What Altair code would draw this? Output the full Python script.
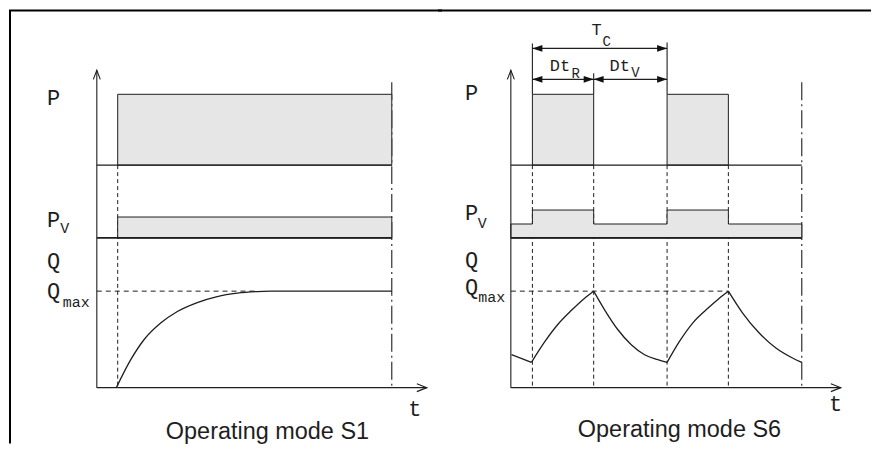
import altair as alt
import pandas as pd

# ---------------- values ----------------
# time unit: one S6 duty cycle T_C = 10 units; level units arbitrary (Q_max ~ 9.7)
S1_ON, S1_END = 1.55, 21.9
S6_EDGES = [1.6, 6.15, 11.6, 16.15, 21.6]      # on, off, on, off, end of view
T_AXIS_END = 24.5
LEVEL_AXIS_END = 31.8

P_BASE, P_TOP = 22.3, 29.4
PV_BASE = 15.0
PV_S1_TOP = 17.1
PV_S6_LOW, PV_S6_HIGH = 16.4, 17.8
Q_MAX = 9.67
S1_QMAX_DASH_END = 12.0

# thermal curve S1 (exponential rise to Q_max)
S1_Q_T = [1.45, 2.52, 3.5, 4.74, 5.98, 7.46, 8.94, 10.42, 11.9, 12.89, 21.9]
S1_Q = [0.0, 2.8, 4.8, 6.47, 7.63, 8.53, 9.13, 9.47, 9.63, 9.67, 9.67]

# thermal curve S6 (saw-tooth of exponential arcs)
S6_Q_T = [0.05, 1.53,
          1.53, 2.52, 3.5, 4.5, 5.48, 6.15,
          6.15, 6.96, 7.95, 8.94, 9.93, 10.91, 11.6,
          11.6, 12.52, 13.5, 14.5, 15.48, 16.15,
          16.15, 17.21, 18.44, 19.68, 20.91, 21.6]
S6_Q = [3.3, 2.53,
        2.53, 4.6, 6.35, 7.75, 8.97, 9.67,
        9.67, 7.8, 5.8, 4.3, 3.3, 2.8, 2.53,
        2.53, 4.63, 6.47, 7.8, 8.97, 9.67,
        9.67, 7.47, 5.47, 3.97, 2.97, 2.53]
S6_Q_ARC = [0, 0,
            1, 1, 1, 1, 1, 1,
            2, 2, 2, 2, 2, 2, 2,
            3, 3, 3, 3, 3, 3,
            4, 4, 4, 4, 4, 4]

# dimension chain of S6
TC_LEVEL, DT_LEVEL = 34.0, 30.9
DASHDOT_TOP = 30.6

# texts
TITLES = ["Operating mode S1", "Operating mode S6"]

# ---------------- styling / layout ----------------
INK = "#1e1e1e"
FILL = "#e6e6e6"
MONO = "Liberation Mono"
SANS = "Liberation Sans"
PANEL_W, PANEL_H = 432, 436
LEVEL_DOMAIN = [-5.6, 38.0]
S1_T_DOMAIN = [-6.52, 25.48]
S6_T_DOMAIN = [-5.26, 26.74]

ARROW_LEFT = "M0,0L10,-3.3L10,3.3Z"
ARROW_RIGHT = "M0,0L-10,-3.3L-10,3.3Z"
OPEN_UP = "M-3.5,9L0,0L3.5,9"
OPEN_RIGHT = "M-10,-4L0,0L-10,4"


def seg_df(rows):
    return pd.DataFrame(rows, columns=["x", "y", "x2", "y2"])


def build_panel(tdom, d, borders_left, frame_x0, frame_x1):
    xs = alt.Scale(domain=tdom, nice=False, zero=False)
    ys = alt.Scale(domain=LEVEL_DOMAIN, nice=False, zero=False)

    def X(f):
        return alt.X(f, type="quantitative", scale=xs, axis=None)

    def Y(f):
        return alt.Y(f, type="quantitative", scale=ys, axis=None)

    def rules(df, **kw):
        return alt.Chart(df).mark_rule(**kw).encode(
            x=X("x"), y=Y("y"), x2=alt.X2("x2"), y2=alt.Y2("y2"))

    layers = []
    layers.append(rules(d["dash_v"], color=INK, strokeWidth=1, strokeDash=[4, 3]))
    layers.append(rules(d["dash_h"], color=INK, strokeWidth=1, strokeDash=[5, 4]))
    layers.append(rules(d["dashdot"], color=INK, strokeWidth=1.1, strokeDash=[18, 4, 2, 4]))
    layers.append(alt.Chart(d["rects"]).mark_rect(fill=FILL, stroke=INK, strokeWidth=1).encode(
        x=X("x"), x2=alt.X2("x2"), y=Y("y"), y2=alt.Y2("y2")))
    if d.get("area") is not None:
        layers.append(alt.Chart(d["area"]).mark_area(
            fill=FILL, stroke=INK, strokeWidth=1, interpolate="step-after", opacity=1).encode(
            x=X("t"), y=Y("top"), y2=alt.Y2("base")))
    layers.append(rules(d["solid"], color=INK, strokeWidth=1.1))
    layers.append(rules(d["thick"], color=INK, strokeWidth=1.8))
    layers.append(alt.Chart(d["curve"]).mark_line(
        color=INK, strokeWidth=1.3, interpolate="monotone").encode(
        x=X("t"), y=Y("q"), detail="arc:N"))
    # axis arrow heads
    layers.append(alt.Chart(d["up"]).mark_point(
        shape=OPEN_UP, size=4, filled=False, stroke=INK, strokeWidth=1.1, opacity=1).encode(
        x=X("x"), y=Y("y")))
    layers.append(alt.Chart(d["right"]).mark_point(
        shape=OPEN_RIGHT, size=4, filled=False, stroke=INK, strokeWidth=1.1, opacity=1).encode(
        x=X("x"), y=Y("y")))
    if d.get("arr_l") is not None:
        layers.append(alt.Chart(d["arr_l"]).mark_point(
            shape=ARROW_LEFT, size=4, filled=True, color="#111", opacity=1).encode(
            x=X("x"), y=Y("y")))
        layers.append(alt.Chart(d["arr_r"]).mark_point(
            shape=ARROW_RIGHT, size=4, filled=True, color="#111", opacity=1).encode(
            x=X("x"), y=Y("y")))
    # texts
    specs = [("main", 22, MONO, "left"), ("sub", 15, MONO, "left"),
             ("dim", 17, MONO, "left"), ("dimsub", 14, MONO, "left"),
             ("title", 23.5, SANS, "center")]
    for key, size, font, align in specs:
        if d.get(key) is not None:
            layers.append(alt.Chart(d[key]).mark_text(
                align=align, baseline="alphabetic", font=font, fontSize=size, color=INK).encode(
                x=X("x"), y=Y("y"), text="s:N"))
    # frame
    layers.append(alt.Chart(pd.DataFrame({"k": [0]})).mark_rule(color="#000", strokeWidth=2).encode(
        x=alt.value(frame_x0), x2=alt.value(frame_x1), y=alt.value(2)))
    if borders_left:
        layers.append(alt.Chart(pd.DataFrame({"k": [0]})).mark_rule(color="#000", strokeWidth=2).encode(
            x=alt.value(1), y=alt.value(2), y2=alt.value(PANEL_H)))
    return alt.layer(*layers).properties(width=PANEL_W, height=PANEL_H)


def txt(rows):
    return pd.DataFrame(rows, columns=["s", "x", "y"])


# ---------------- S1 panel ----------------
s1 = {
    "dash_v": seg_df([(S1_ON, P_BASE, S1_ON, 0)]),
    "dash_h": seg_df([(0, Q_MAX, S1_QMAX_DASH_END, Q_MAX)]),
    "dashdot": seg_df([(S1_END, DASHDOT_TOP, S1_END, 0)]),
    "rects": seg_df([(S1_ON, P_BASE, S1_END, P_TOP), (S1_ON, PV_BASE, S1_END, PV_S1_TOP)]),
    "solid": seg_df([(0, 0, 0, LEVEL_AXIS_END), (0, 0, T_AXIS_END, 0),
                     (0, P_BASE, S1_END, P_BASE)]),
    "thick": seg_df([(0, PV_BASE, S1_END, PV_BASE)]),
    "curve": pd.DataFrame({"t": S1_Q_T, "q": S1_Q, "arc": [0] * len(S1_Q)}),
    "up": pd.DataFrame({"x": [0], "y": [LEVEL_AXIS_END]}),
    "right": pd.DataFrame({"x": [T_AXIS_END], "y": [0]}),
    "main": txt([("P", -3.70, 28.37), ("P", -3.70, 16.13), ("Q", -3.70, 12.0),
                 ("Q", -3.70, 9.0), ("t", 23.13, -2.87)]),
    "sub": txt([("V", -2.72, 15.5), ("max", -2.52, 8.13)]),
    "title": txt([(TITLES[0], 12.67, -5.1)]),
}

# ---------------- S6 panel ----------------
on1, off1, on2, off2, end6 = S6_EDGES
s6 = {
    "dash_v": seg_df([(t, P_BASE, t, 0) for t in [on1, off1, on2, off2]]),
    "dash_h": seg_df([(0, Q_MAX, off2, Q_MAX)]),
    "dashdot": seg_df([(end6, DASHDOT_TOP, end6, 0)]),
    "rects": seg_df([(on1, P_BASE, off1, P_TOP), (on2, P_BASE, off2, P_TOP)]),
    "area": pd.DataFrame({"t": [0, on1, off1, on2, off2, end6],
                          "top": [PV_S6_LOW, PV_S6_HIGH, PV_S6_LOW, PV_S6_HIGH, PV_S6_LOW, PV_S6_LOW],
                          "base": [PV_BASE] * 6}),
    "solid": seg_df([(0, 0, 0, LEVEL_AXIS_END), (0, 0, T_AXIS_END, 0),
                     (0, P_BASE, end6, P_BASE),
                     (on1, TC_LEVEL + 0.5, on1, P_TOP), (on2, TC_LEVEL + 0.6, on2, P_TOP),
                     (off1, DT_LEVEL + 0.6, off1, P_TOP),
                     (on1, TC_LEVEL, on2, TC_LEVEL), (on1, DT_LEVEL, on2, DT_LEVEL)]),
    "thick": seg_df([(0, PV_BASE, end6, PV_BASE)]),
    "curve": pd.DataFrame({"t": S6_Q_T, "q": S6_Q, "arc": S6_Q_ARC}),
    "up": pd.DataFrame({"x": [0], "y": [LEVEL_AXIS_END]}),
    "right": pd.DataFrame({"x": [T_AXIS_END], "y": [0]}),
    "arr_l": pd.DataFrame({"x": [on1, on1, off1], "y": [TC_LEVEL, DT_LEVEL, DT_LEVEL]}),
    "arr_r": pd.DataFrame({"x": [on2, off1, on2], "y": [TC_LEVEL, DT_LEVEL, DT_LEVEL]}),
    "main": txt([("P", -3.41, 28.8), ("P", -3.41, 16.8), ("Q", -3.41, 12.1),
                 ("Q", -3.41, 9.4), ("t", 23.63, -2.37)]),
    "sub": txt([("V", -2.45, 16.0), ("max", -2.42, 8.6)]),
    "dim": txt([("T", 5.99, 35.3), ("Dt", 2.89, 31.73), ("Dt", 7.33, 31.73)]),
    "dimsub": txt([("C", 6.81, 34.25), ("R", 4.5, 31.0), ("V", 8.94, 31.1)]),
    "title": txt([(TITLES[1], 12.52, -4.9)]),
}

chart = alt.hconcat(
    build_panel(S1_T_DOMAIN, s1, True, 0, PANEL_W + 2),
    build_panel(S6_T_DOMAIN, s6, False, -2, PANEL_W),
    spacing=0,
    bounds="flush",
).properties(padding=0).configure_view(stroke=None)

chart.save("out.html", embed_options={"renderer": "svg", "actions": False})
